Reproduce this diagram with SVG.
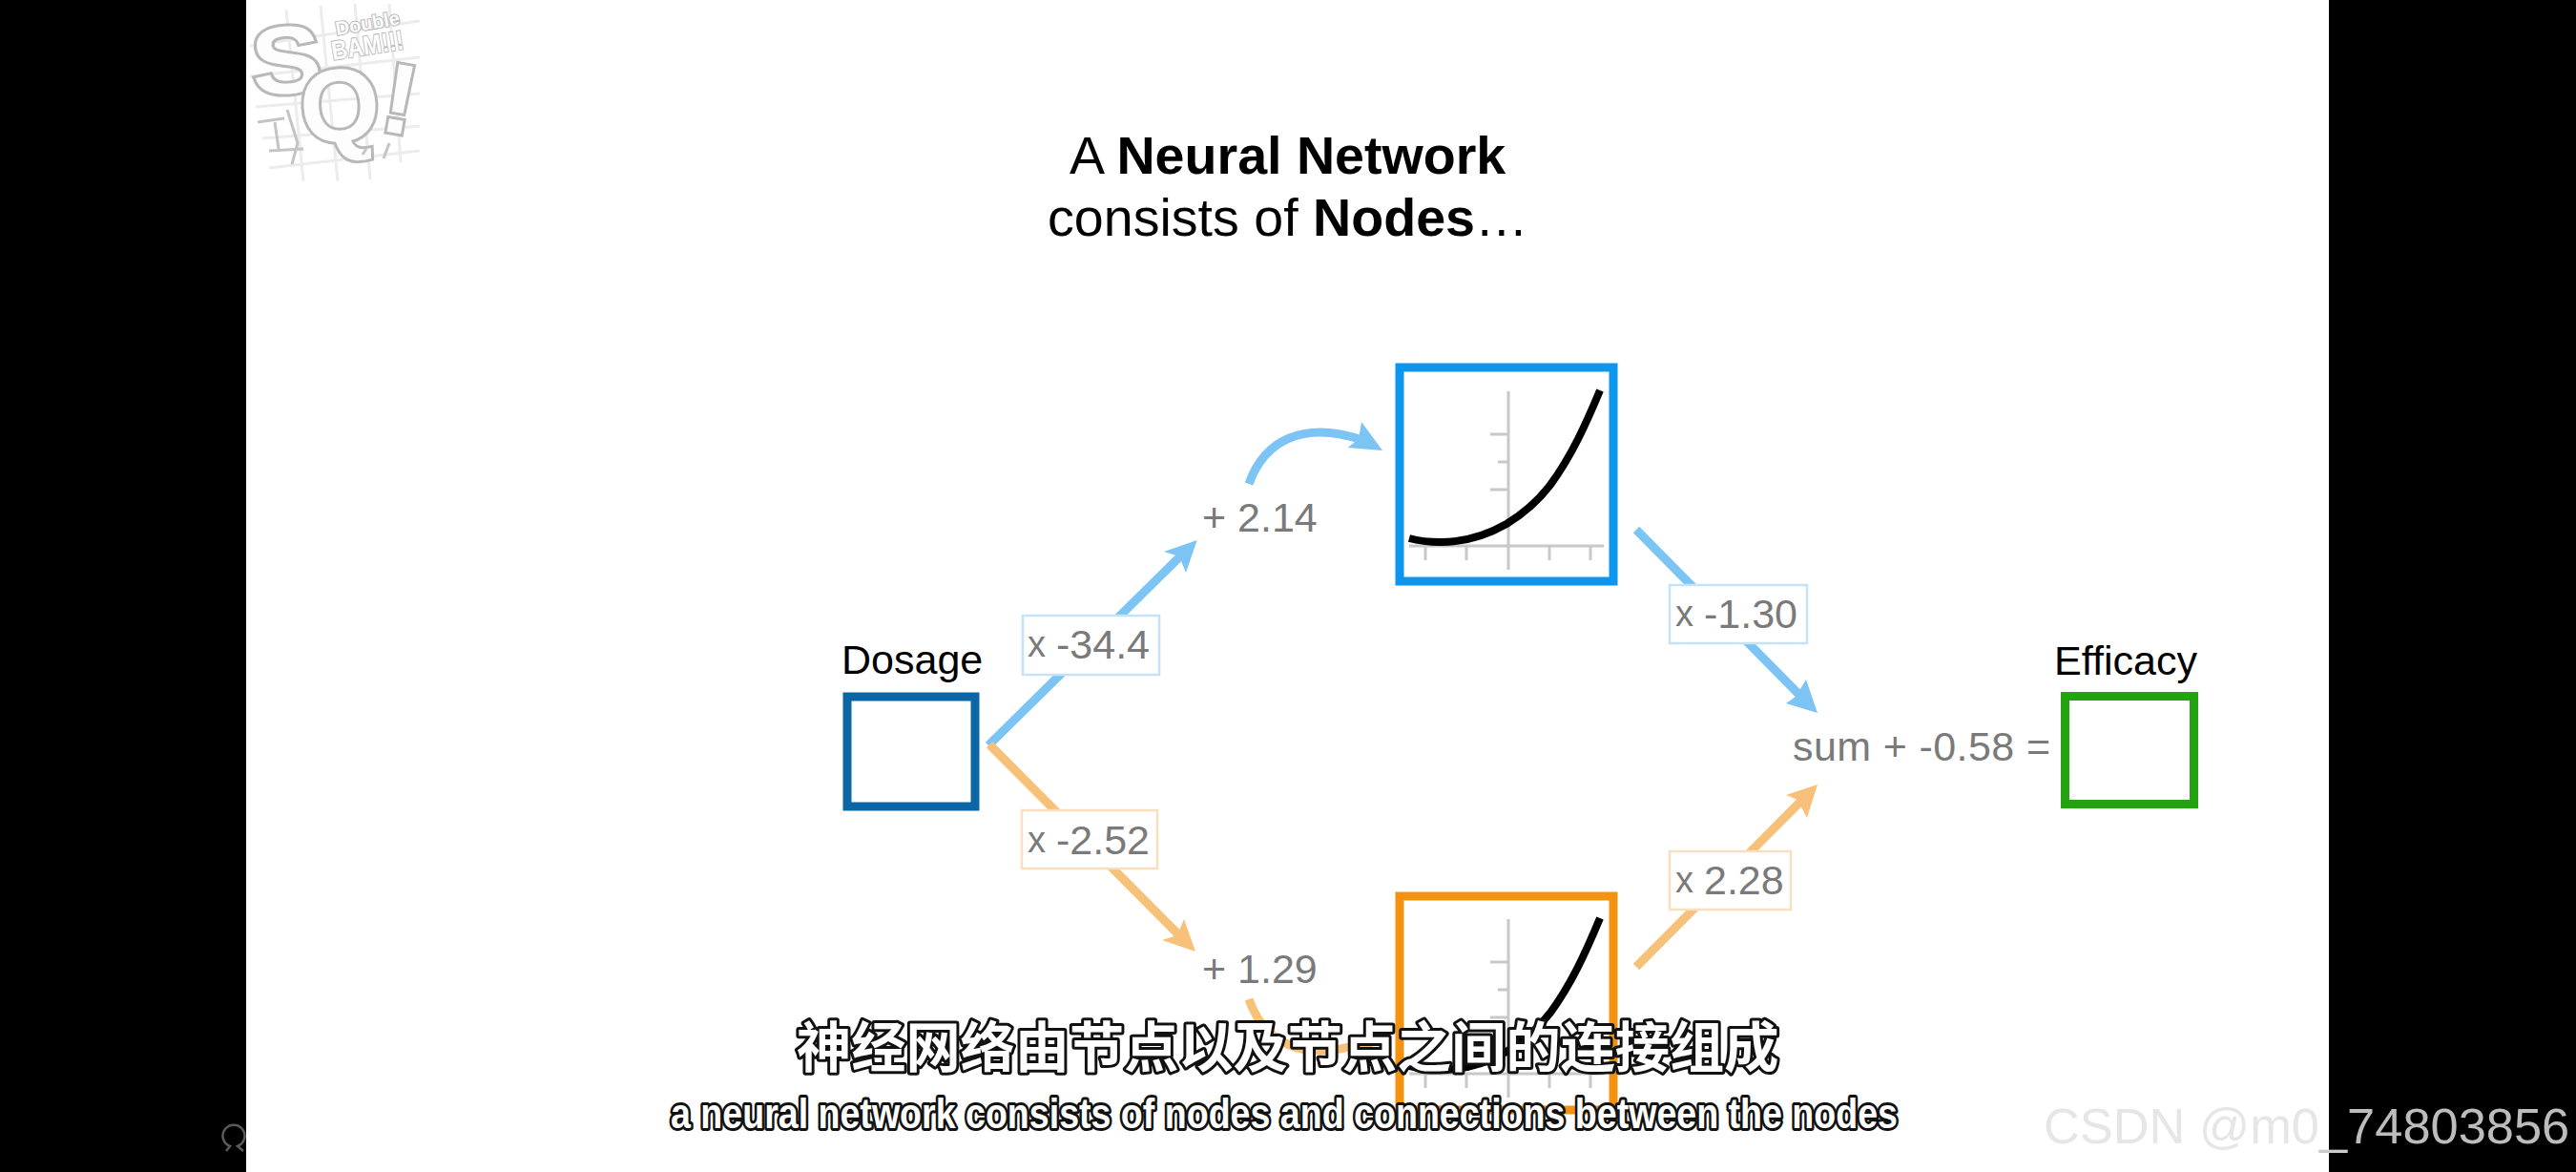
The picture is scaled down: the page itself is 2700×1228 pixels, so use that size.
<svg xmlns="http://www.w3.org/2000/svg" xmlns:xlink="http://www.w3.org/1999/xlink" width="2700" height="1228" viewBox="0 0 2700 1228">
<style>
text{font-family:"Liberation Sans",Arial,sans-serif}
.val{font-size:43px;fill:#7a7a7a}
.x{font-size:38px}
.name{font-size:43px;fill:#000}
.title{font-size:55.6px;fill:#000}
.b{font-weight:700}
.box{fill:#fff;stroke-width:9}
.lab{stroke-width:2.5;fill:#fff}
.lb{stroke:#c4e3f6}.lo{stroke:#f8dfbf}
.cb{stroke:#7cc4f3;stroke-width:9;fill:none}
.co{stroke:#f7c17a;stroke-width:9;fill:none}
.hb{fill:#7cc4f3}.ho{fill:#f7c17a}
.axis{stroke:#c8c8c8;stroke-width:3;fill:none}
.curve{stroke:#000;stroke-width:8;fill:none;stroke-linecap:butt}
.sub{fill:#fff;stroke:#111;paint-order:stroke;stroke-linejoin:round;font-weight:700}
.lg{fill:#fdfdfd;stroke:#b8b8b8;stroke-width:6;font-weight:700;paint-order:stroke}
.grid{stroke:#ececec;stroke-width:3;fill:none}
.doodle{stroke:#c4c4c4;stroke-width:3;fill:none}
</style>
<defs>
<g id="chart">
<path class="axis" d="M1581 410V597M1477 572H1681M1494 572V587M1537 572V587M1624 572V587M1667 572V587M1562 455H1581M1570 484H1581M1562 513H1581"/>
<path class="curve" d="M1477 564C1488 567 1499 568 1510 568C1535 568 1558 561 1579 549C1597 538 1612 525 1625 508C1647 478 1662 445 1677 409"/>
</g>
</defs>
<rect id="background" width="2700" height="1228" fill="#000"/>
<rect id="slide" x="258" width="2183" height="1228" fill="#fff"/>
<g id="logo">
<path class="grid" d="M262 48L440 22M262 80L440 60M268 112L440 98M275 145L440 132M282 176L440 158M300 10L318 190M336 6L354 190M372 4L388 188M408 4L420 170"/>
<text class="lg" transform="translate(266 100) rotate(-4) scale(1.1 1)" font-size="100">S</text>
<text class="lg" transform="translate(316 150) rotate(-3)" font-size="108">Q</text>
<text class="lg" transform="translate(396 136) rotate(10)" font-size="104">!</text>
<text class="lg" style="stroke-width:2" transform="translate(353 37) rotate(-10)" font-size="20">Double</text>
<text class="lg" style="stroke-width:2" transform="translate(349 63) rotate(-9)" font-size="28" textLength="76" lengthAdjust="spacingAndGlyphs">BAM!!!</text>
<path class="doodle" d="M270 128L298 124M288 128L292 156M282 158L318 156M301 115L312 150L306 172M384 156L380 162M408 150L402 166"/>
</g>
<g id="title">
<text class="title" x="1121" y="181.7">A <tspan class="b">Neural Network</tspan></text>
<text class="title" x="1098" y="247">consists of <tspan class="b">Nodes</tspan>…</text>
</g>
<g id="connectors">
<path class="cb" d="M1036 781L1240 580"/>
<polygon class="hb" points="1254.7,566 1220,578 1236,583 1243,600"/>
<path class="cb" d="M1309 507C1325 462 1365 440 1428 461"/>
<polygon class="hb" points="1449,472 1427,442 1424,460 1412.6,469"/>
<path class="cb" d="M1715 555L1890 732"/>
<polygon class="hb" points="1905,747 1893,712 1882,730 1872,737"/>
<path class="co" d="M1037 780L1238 982"/>
<polygon class="ho" points="1253,997 1218,985 1234,980 1241,963"/>
<path class="co" d="M1309 1047C1325 1092 1365 1114 1428 1093"/>
<polygon class="ho" points="1449,1082 1427,1112 1424,1094 1412.6,1085"/>
<path class="co" d="M1715 1013L1890 837"/>
<polygon class="ho" points="1905,822 1872,833 1884,838 1894,857"/>
</g>
<g id="node-dosage">
<text class="name" x="882" y="706">Dosage</text>
<rect class="box" x="888" y="730" width="134" height="115" stroke="#0c66a3"/>
</g>
<g id="node-blue">
<rect class="box" x="1467" y="385" width="224" height="224" stroke="#0d96ee"/>
<use xlink:href="#chart" href="#chart"/>
</g>
<g id="node-orange">
<rect class="box" x="1467" y="939" width="224" height="224" stroke="#f2920f"/>
<use xlink:href="#chart" href="#chart" transform="translate(0 553)"/>
</g>
<g id="node-efficacy">
<text class="name" x="2153" y="707" textLength="150" lengthAdjust="spacingAndGlyphs">Efficacy</text>
<rect class="box" x="2164.5" y="729.5" width="135" height="113" stroke="#22a30f"/>
</g>
<g id="label-w1"><rect class="lab lb" x="1072" y="645" width="143" height="62"/><text class="val" x="1077" y="688"><tspan class="x">x</tspan> <tspan x="1107" y="690">-34.4</tspan></text></g>
<g id="label-w2"><rect class="lab lo" x="1071" y="849" width="142" height="61"/><text class="val" x="1077" y="893"><tspan class="x">x</tspan> <tspan x="1107" y="895">-2.52</tspan></text></g>
<g id="label-w3"><rect class="lab lb" x="1750" y="613" width="144" height="61"/><text class="val" x="1756" y="656"><tspan class="x">x</tspan> <tspan x="1786" y="658">-1.30</tspan></text></g>
<g id="label-w4"><rect class="lab lo" x="1750" y="892" width="127" height="61"/><text class="val" x="1756" y="935"><tspan class="x">x</tspan> <tspan x="1786" y="937">2.28</tspan></text></g>
<g id="label-b1"><text class="val" x="1260" y="557">+ 2.14</text></g>
<g id="label-b2"><text class="val" x="1260" y="1030">+ 1.29</text></g>
<g id="label-sum"><text class="val" x="1879" y="797" textLength="270" lengthAdjust="spacing">sum + -0.58 =</text></g>
<g id="subtitles">
<text class="sub" x="835" y="1118" font-size="57.2" stroke-width="6" style='font-family:"Noto Sans CJK SC",sans-serif'>神经网络由节点以及节点之间的连接组成</text>
<text class="sub" x="703" y="1182" font-size="44" stroke-width="6" textLength="1286" lengthAdjust="spacingAndGlyphs">a neural network consists of nodes and connections between the nodes</text>
</g>
<g id="watermark">
<text x="2142" y="1198" font-size="52.4" fill="#e6e6e6">CSDN @m0<tspan fill="#cccccc">_</tspan><tspan fill="#bcbcbc">74803856</tspan></text>
</g>
<g id="corner-icon">
<path d="M237 1206L241 1201A11.500 11.500 0 1 1 249 1201L255 1206" fill="none" stroke="#5a5a5a" stroke-width="2.500"/>
</g>
</svg>
